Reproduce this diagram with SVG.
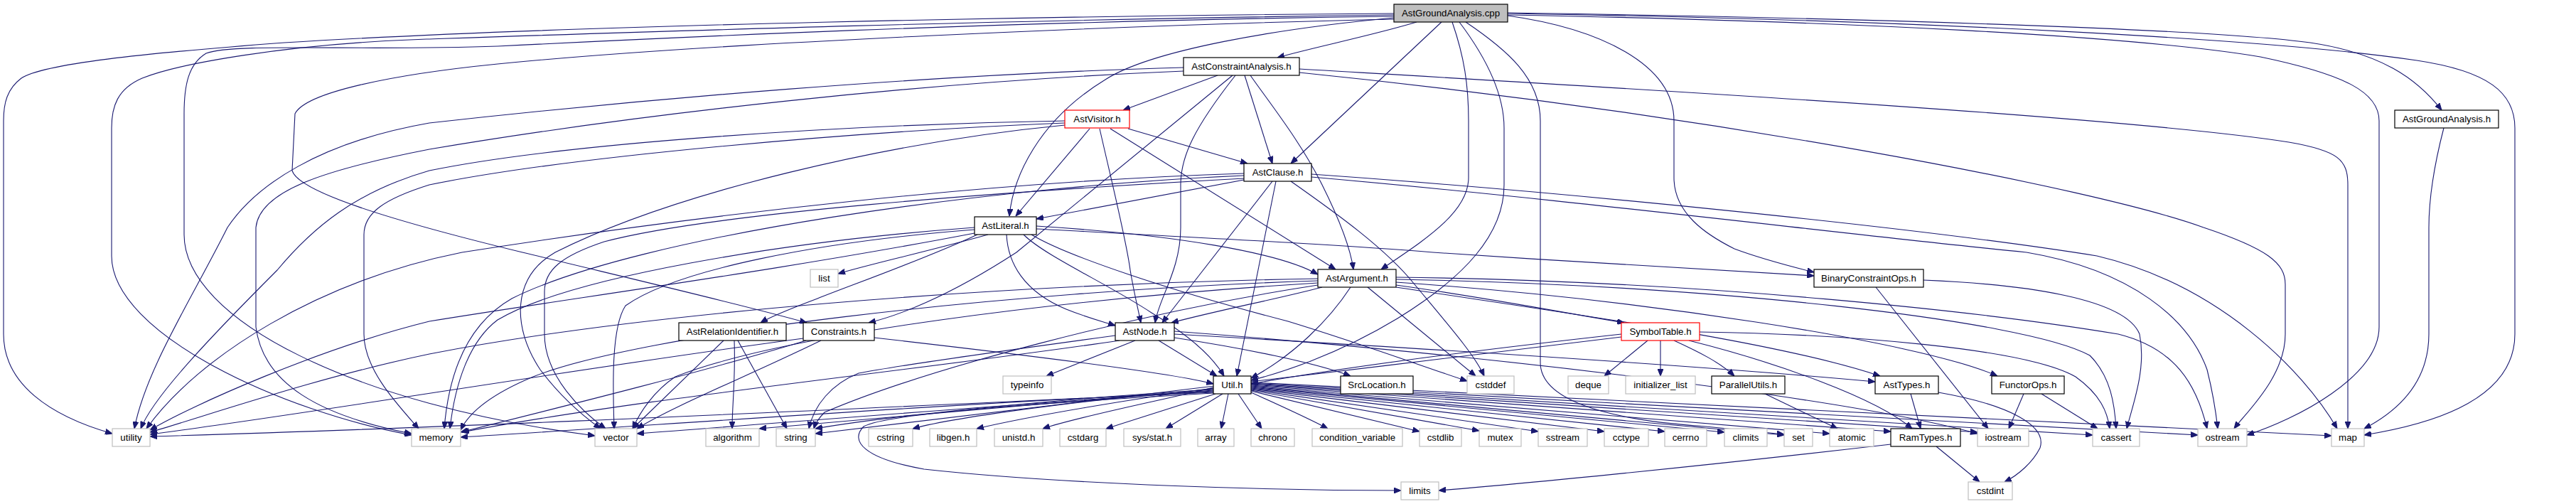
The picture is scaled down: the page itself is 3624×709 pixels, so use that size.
<svg xmlns="http://www.w3.org/2000/svg" width="3624" height="709" viewBox="0 0 3624 709">
<style>
rect{fill:#fff;stroke-width:1.2}
.proj{stroke:#000}
.sys{stroke:#bfbfbf}
.trunc{stroke:#ff0000}
.root{fill:#bfbfbf;stroke:#000}
text{font-family:"Liberation Sans",Arial,Helvetica,sans-serif;font-size:13.3px;text-anchor:middle;fill:#000}
#edges path{fill:none;stroke:#191970;stroke-width:1.1;marker-end:url(#arr)}
</style>
<defs>
<marker id="arr" viewBox="0 0 10 8" refX="10" refY="4" markerWidth="10" markerHeight="8" orient="auto" markerUnits="userSpaceOnUse"><path d="M0,0L10,4L0,8z" fill="#191970" stroke="#191970" stroke-width="1"/></marker>
</defs>
<rect x="0" y="0" width="3624" height="709" style="fill:#fff;stroke:none"/>
<g id="edges">
<path d="M1993,31 C1930,50 1850,66 1797,81"/>
<path d="M2028,31 L1816,230"/>
<path d="M1961,25 C1800,40 1620,70 1555,112 C1460,170 1425,250 1420,304"/>
<path d="M2043,31 C2060,80 2066,120 2066,170 L2066,250 C2066,300 2000,340 1943,379"/>
<path d="M2053,31 C2090,80 2116,130 2116,180 L2116,260 C2116,330 2060,390 1966,448 C1880,500 1800,525 1760,535"/>
<path d="M2062,31 C2120,70 2167,110 2167,170 L2167,510 C2167,560 2250,590 2400,600 C2450,605 2480,608 2510,611"/>
<path d="M2121,22 C2250,40 2355,90 2355,170 L2355,250 C2355,300 2400,330 2440,350 C2480,365 2520,375 2552,383"/>
<path d="M2121,21 C2600,30 3000,50 3180,80 C3300,105 3347,130 3347,170 L3347,460 C3347,530 3230,590 3161,612"/>
<path d="M2121,18 C2600,25 3100,40 3250,60 C3350,75 3400,110 3435,155"/>
<path d="M2121,19 C2700,28 3200,55 3400,85 C3500,100 3538,130 3538,180 L3538,470 C3538,570 3400,600 3326,612"/>
<path d="M1961,19 C1500,22 800,35 400,60 C200,75 60,90 30,110 C10,125 5,145 5,170 L5,470 C5,540 70,585 158,610"/>
<path d="M1961,21 C1400,28 900,45 600,55 C400,62 250,90 200,110 C165,125 157,150 157,180 L157,360 C157,470 400,580 579,612"/>
<path d="M1961,23 C1400,30 900,55 700,65 C500,72 330,60 290,75 C265,90 259,120 259,160 L259,330 C259,450 500,570 837,613"/>
<path d="M1961,27 C1600,35 1000,60 700,90 C550,105 430,130 415,160 L411,240 C420,270 550,310 735,355 C900,395 1050,430 1135,454"/>
<path d="M3438,180 C3425,230 3417,280 3417,320 L3417,470 C3417,540 3370,580 3326,603"/>
<path d="M1713,106 L1580,155"/>
<path d="M1751,106 L1790,230"/>
<path d="M1759,106 C1790,150 1830,200 1860,260 C1885,310 1900,350 1904,379"/>
<path d="M1734,106 L1430,355 C1330,420 1260,445 1222,454"/>
<path d="M1738,106 C1680,180 1661,220 1661,260 L1661,320 C1661,380 1630,420 1625,454"/>
<path d="M1665,95 C1300,105 900,140 604,173 C450,200 360,260 320,320 C270,420 205,520 189,603"/>
<path d="M1665,100 C1300,115 900,160 604,210 C450,240 365,270 360,320 L360,460 C370,540 450,585 579,610"/>
<path d="M1828,97 C2300,125 3000,165 3220,200 C3290,212 3303,225 3303,260 L3303,603"/>
<path d="M1828,102 C2400,160 2950,265 3100,320 C3190,350 3215,370 3215,400 L3215,470 C3215,530 3160,580 3143,603"/>
<path d="M1587,181 L1755,230"/>
<path d="M1533,181 L1429,304"/>
<path d="M1547,181 C1565,260 1585,340 1590,380 C1595,410 1600,430 1605,454"/>
<path d="M1562,181 L1879,379"/>
<path d="M1498,170 C1200,175 800,200 604,240 C500,270 440,320 390,380 C290,480 215,560 198,603"/>
<path d="M1498,173 C1200,185 800,220 604,260 C540,280 512,300 512,330 L512,470 C512,520 560,570 589,603"/>
<path d="M1498,176 C1250,200 950,270 781,355 C720,390 720,460 760,520 C790,560 820,585 845,603"/>
<path d="M1750,253 L1458,308"/>
<path d="M1790,255 L1635,454"/>
<path d="M1795,255 L1740,529"/>
<path d="M1816,255 C1880,300 1950,350 1990,400 C2040,460 2075,500 2088,529"/>
<path d="M1750,244 C1400,255 1000,300 650,355 C450,395 280,500 206,603"/>
<path d="M1750,247 C1400,262 900,330 720,420 C650,460 630,540 625,603"/>
<path d="M1750,251 C1400,270 1000,300 850,340 C790,360 766,380 766,410 L766,470 C766,530 820,580 852,603"/>
<path d="M1845,245 C2200,270 2700,320 2950,360 C3120,400 3240,520 3288,603"/>
<path d="M1845,249 C2200,280 2600,330 2851,355 C3000,380 3080,450 3105,520 C3115,560 3118,585 3120,603"/>
<path d="M1458,318 C1650,330 1800,355 1854,386"/>
<path d="M1416,330 C1418,370 1440,410 1500,435 C1530,447 1550,452 1569,458"/>
<path d="M1375,330 C1300,365 1200,400 1150,420 C1110,435 1085,445 1070,454"/>
<path d="M1390,330 C1300,355 1230,370 1179,385"/>
<path d="M1458,322 C1700,335 1900,345 2016,355 C2200,368 2400,378 2552,388"/>
<path d="M1440,330 C1470,360 1560,400 1620,440 C1670,470 1705,500 1722,529"/>
<path d="M1451,330 C1500,360 1650,410 1812,452 C1920,485 2000,515 2064,536"/>
<path d="M1371,328 C1100,380 800,420 604,452 C450,490 270,570 211,605"/>
<path d="M1371,320 C1100,340 800,390 700,450 C660,480 640,540 633,603"/>
<path d="M1371,323 C1150,340 950,380 880,430 C860,460 862,540 864,603"/>
<path d="M1860,404 C1800,420 1720,435 1648,454"/>
<path d="M1964,401 C2100,420 2200,440 2285,454"/>
<path d="M1964,404 C2200,440 2500,480 2645,529"/>
<path d="M1964,397 C2300,420 2700,480 2810,529"/>
<path d="M1900,404 C1870,450 1820,500 1760,532"/>
<path d="M1924,404 L2076,529"/>
<path d="M1854,392 C1400,400 900,440 604,498 C450,530 290,585 211,608"/>
<path d="M1854,395 C1400,410 900,470 750,530 C690,555 660,580 648,605"/>
<path d="M1854,398 C1500,420 1100,470 950,530 C920,550 900,580 890,603"/>
<path d="M1854,401 C1600,440 1300,520 1160,580 C1150,590 1147,596 1145,603"/>
<path d="M1964,390 C2400,395 2800,440 2980,470 C3060,490 3090,540 3105,603"/>
<path d="M1964,393 C2400,400 2850,450 2940,500 C2970,530 2975,570 2977,603"/>
<path d="M1597,479 L1472,529"/>
<path d="M1652,475 C1750,490 1850,510 1900,529"/>
<path d="M1630,479 L1712,529"/>
<path d="M1575,479 C1300,520 900,560 650,608"/>
<path d="M1569,472 C1400,495 1260,515 1208,525 C1170,540 1145,570 1138,603"/>
<path d="M1652,470 C2000,490 2400,515 2638,537"/>
<path d="M1652,466 C2100,500 2600,560 2782,610"/>
<path d="M1018,479 L890,603"/>
<path d="M1033,479 C1035,530 1030,570 1030,603"/>
<path d="M1038,479 L1107,603"/>
<path d="M1230,475 C1450,500 1650,525 1707,540"/>
<path d="M1130,476 C800,520 450,580 211,611"/>
<path d="M1134,479 C1000,520 800,570 648,608"/>
<path d="M1155,479 C1050,530 950,570 896,603"/>
<path d="M2281,470 C2100,490 1900,515 1760,540"/>
<path d="M2281,474 C1900,520 1500,570 1147,610"/>
<path d="M2318,479 L2257,529"/>
<path d="M2336,479 L2336,529"/>
<path d="M2355,479 C2390,495 2420,510 2440,529"/>
<path d="M2376,479 C2500,510 2640,560 2690,603"/>
<path d="M2391,467 C2600,470 2850,490 2920,530 C2955,555 2965,580 2968,603"/>
<path d="M2639,404 L2797,603"/>
<path d="M2706,394 C2850,400 2990,420 3010,470 C3020,520 3000,570 2992,603"/>
<path d="M2847,554 L2826,603"/>
<path d="M2872,554 L2951,603"/>
<path d="M2483,554 L2585,603"/>
<path d="M2688,554 L2702,603"/>
<path d="M2727,552 C2830,570 2880,600 2870,630 C2860,650 2840,668 2820,678"/>
<path d="M2724,628 L2785,678"/>
<path d="M2660,625 C2400,655 2150,680 2024,690"/>
<path d="M1707,552 C1300,570 700,600 211,614"/>
<path d="M1707,551 C1300,570 900,600 648,615"/>
<path d="M1707,550 C1400,570 1100,595 896,610"/>
<path d="M1707,549 C1500,565 1200,590 1068,603"/>
<path d="M1707,548 C1500,560 1250,585 1147,603"/>
<path d="M1707,547 C1550,560 1350,585 1284,603"/>
<path d="M1707,546 C1600,560 1450,585 1374,603"/>
<path d="M1707,545 C1650,560 1520,585 1467,603"/>
<path d="M1710,554 L1556,603"/>
<path d="M1720,554 L1640,603"/>
<path d="M1728,554 L1718,603"/>
<path d="M1742,554 L1775,603"/>
<path d="M1760,552 C1800,570 1840,588 1868,603"/>
<path d="M1760,550 L1997,607"/>
<path d="M1760,549 L2081,606"/>
<path d="M1760,548 L2164,607"/>
<path d="M1760,547 L2257,607"/>
<path d="M1760,546 L2342,607"/>
<path d="M1760,545 L2426,608"/>
<path d="M1760,544 L2510,612"/>
<path d="M1760,543 L2574,610"/>
<path d="M1760,542 L2660,607"/>
<path d="M1760,541 L2782,608"/>
<path d="M1760,540 L2944,612"/>
<path d="M1760,539 L3092,612"/>
<path d="M1760,538 L3280,613"/>
<path d="M1707,553 C1500,565 1250,580 1215,600 C1195,620 1215,645 1300,660 C1500,682 1800,690 1971,690"/>
</g>
<g id="n_cpp"><rect class="root" x="1961" y="6" width="160" height="25"/><text x="2041" y="23">AstGroundAnalysis.cpp</text></g>
<g id="n_aca"><rect class="proj" x="1665" y="81" width="163" height="25"/><text x="1746.5" y="98">AstConstraintAnalysis.h</text></g>
<g id="n_visitor"><rect class="trunc" x="1498" y="155" width="91" height="25"/><text x="1543.5" y="172">AstVisitor.h</text></g>
<g id="n_aga"><rect class="proj" x="3369" y="155" width="146" height="25"/><text x="3442" y="172">AstGroundAnalysis.h</text></g>
<g id="n_clause"><rect class="proj" x="1750" y="230" width="95" height="25"/><text x="1797.5" y="247">AstClause.h</text></g>
<g id="n_literal"><rect class="proj" x="1371" y="305" width="87" height="25"/><text x="1414.5" y="322">AstLiteral.h</text></g>
<g id="n_list"><rect class="sys" x="1140" y="379" width="39" height="25"/><text x="1159.5" y="396">list</text></g>
<g id="n_argument"><rect class="proj" x="1854" y="379" width="110" height="25"/><text x="1909" y="396">AstArgument.h</text></g>
<g id="n_bco"><rect class="proj" x="2552" y="379" width="154" height="25"/><text x="2629" y="396">BinaryConstraintOps.h</text></g>
<g id="n_relid"><rect class="proj" x="955" y="454" width="151" height="25"/><text x="1030.5" y="471">AstRelationIdentifier.h</text></g>
<g id="n_constraints"><rect class="proj" x="1130" y="454" width="100" height="25"/><text x="1180" y="471">Constraints.h</text></g>
<g id="n_astnode"><rect class="proj" x="1569" y="454" width="83" height="25"/><text x="1610.5" y="471">AstNode.h</text></g>
<g id="n_symtab"><rect class="trunc" x="2281" y="454" width="110" height="25"/><text x="2336" y="471">SymbolTable.h</text></g>
<g id="n_typeinfo"><rect class="sys" x="1411" y="529" width="68" height="25"/><text x="1445" y="546">typeinfo</text></g>
<g id="n_util"><rect class="proj" x="1707" y="529" width="53" height="25"/><text x="1733.5" y="546">Util.h</text></g>
<g id="n_srcloc"><rect class="proj" x="1886" y="529" width="102" height="25"/><text x="1937" y="546">SrcLocation.h</text></g>
<g id="n_cstddef"><rect class="sys" x="2064" y="529" width="66" height="25"/><text x="2097" y="546">cstddef</text></g>
<g id="n_deque"><rect class="sys" x="2206" y="529" width="57" height="25"/><text x="2234.5" y="546">deque</text></g>
<g id="n_initlist"><rect class="sys" x="2287" y="529" width="98" height="25"/><text x="2336" y="546">initializer_list</text></g>
<g id="n_parallel"><rect class="proj" x="2408" y="529" width="103" height="25"/><text x="2459.5" y="546">ParallelUtils.h</text></g>
<g id="n_asttypes"><rect class="proj" x="2638" y="529" width="89" height="25"/><text x="2682.5" y="546">AstTypes.h</text></g>
<g id="n_functor"><rect class="proj" x="2802" y="529" width="102" height="25"/><text x="2853" y="546">FunctorOps.h</text></g>
<g id="n_utility"><rect class="sys" x="158" y="603" width="53" height="25"/><text x="184.5" y="620">utility</text></g>
<g id="n_memory"><rect class="sys" x="579" y="603" width="69" height="25"/><text x="613.5" y="620">memory</text></g>
<g id="n_vector"><rect class="sys" x="837" y="603" width="59" height="25"/><text x="866.5" y="620">vector</text></g>
<g id="n_algorithm"><rect class="sys" x="993" y="603" width="75" height="25"/><text x="1030.5" y="620">algorithm</text></g>
<g id="n_string"><rect class="sys" x="1092" y="603" width="55" height="25"/><text x="1119.5" y="620">string</text></g>
<g id="n_cstring"><rect class="sys" x="1222" y="603" width="62" height="25"/><text x="1253" y="620">cstring</text></g>
<g id="n_libgen"><rect class="sys" x="1308" y="603" width="66" height="25"/><text x="1341" y="620">libgen.h</text></g>
<g id="n_unistd"><rect class="sys" x="1399" y="603" width="68" height="25"/><text x="1433" y="620">unistd.h</text></g>
<g id="n_cstdarg"><rect class="sys" x="1491" y="603" width="65" height="25"/><text x="1523.5" y="620">cstdarg</text></g>
<g id="n_sysstat"><rect class="sys" x="1581" y="603" width="80" height="25"/><text x="1621" y="620">sys/stat.h</text></g>
<g id="n_array"><rect class="sys" x="1685" y="603" width="51" height="25"/><text x="1710.5" y="620">array</text></g>
<g id="n_chrono"><rect class="sys" x="1760" y="603" width="61" height="25"/><text x="1790.5" y="620">chrono</text></g>
<g id="n_condvar"><rect class="sys" x="1846" y="603" width="127" height="25"/><text x="1909.5" y="620">condition_variable</text></g>
<g id="n_cstdlib"><rect class="sys" x="1997" y="603" width="59" height="25"/><text x="2026.5" y="620">cstdlib</text></g>
<g id="n_mutex"><rect class="sys" x="2081" y="603" width="59" height="25"/><text x="2110.5" y="620">mutex</text></g>
<g id="n_sstream"><rect class="sys" x="2164" y="603" width="69" height="25"/><text x="2198.5" y="620">sstream</text></g>
<g id="n_cctype"><rect class="sys" x="2257" y="603" width="62" height="25"/><text x="2288" y="620">cctype</text></g>
<g id="n_cerrno"><rect class="sys" x="2342" y="603" width="59" height="25"/><text x="2371.5" y="620">cerrno</text></g>
<g id="n_climits"><rect class="sys" x="2426" y="603" width="60" height="25"/><text x="2456" y="620">climits</text></g>
<g id="n_set"><rect class="sys" x="2510" y="603" width="40" height="25"/><text x="2530" y="620">set</text></g>
<g id="n_atomic"><rect class="sys" x="2574" y="603" width="62" height="25"/><text x="2605" y="620">atomic</text></g>
<g id="n_ramtypes"><rect class="proj" x="2660" y="603" width="98" height="25"/><text x="2709" y="620">RamTypes.h</text></g>
<g id="n_iostream"><rect class="sys" x="2782" y="603" width="72" height="25"/><text x="2818" y="620">iostream</text></g>
<g id="n_cassert"><rect class="sys" x="2944" y="603" width="66" height="25"/><text x="2977" y="620">cassert</text></g>
<g id="n_ostream"><rect class="sys" x="3092" y="603" width="69" height="25"/><text x="3126.5" y="620">ostream</text></g>
<g id="n_map"><rect class="sys" x="3280" y="603" width="46" height="25"/><text x="3303" y="620">map</text></g>
<g id="n_limits"><rect class="sys" x="1971" y="678" width="53" height="25"/><text x="1997.5" y="695">limits</text></g>
<g id="n_cstdint"><rect class="sys" x="2769" y="678" width="62" height="25"/><text x="2800" y="695">cstdint</text></g>
</svg>
